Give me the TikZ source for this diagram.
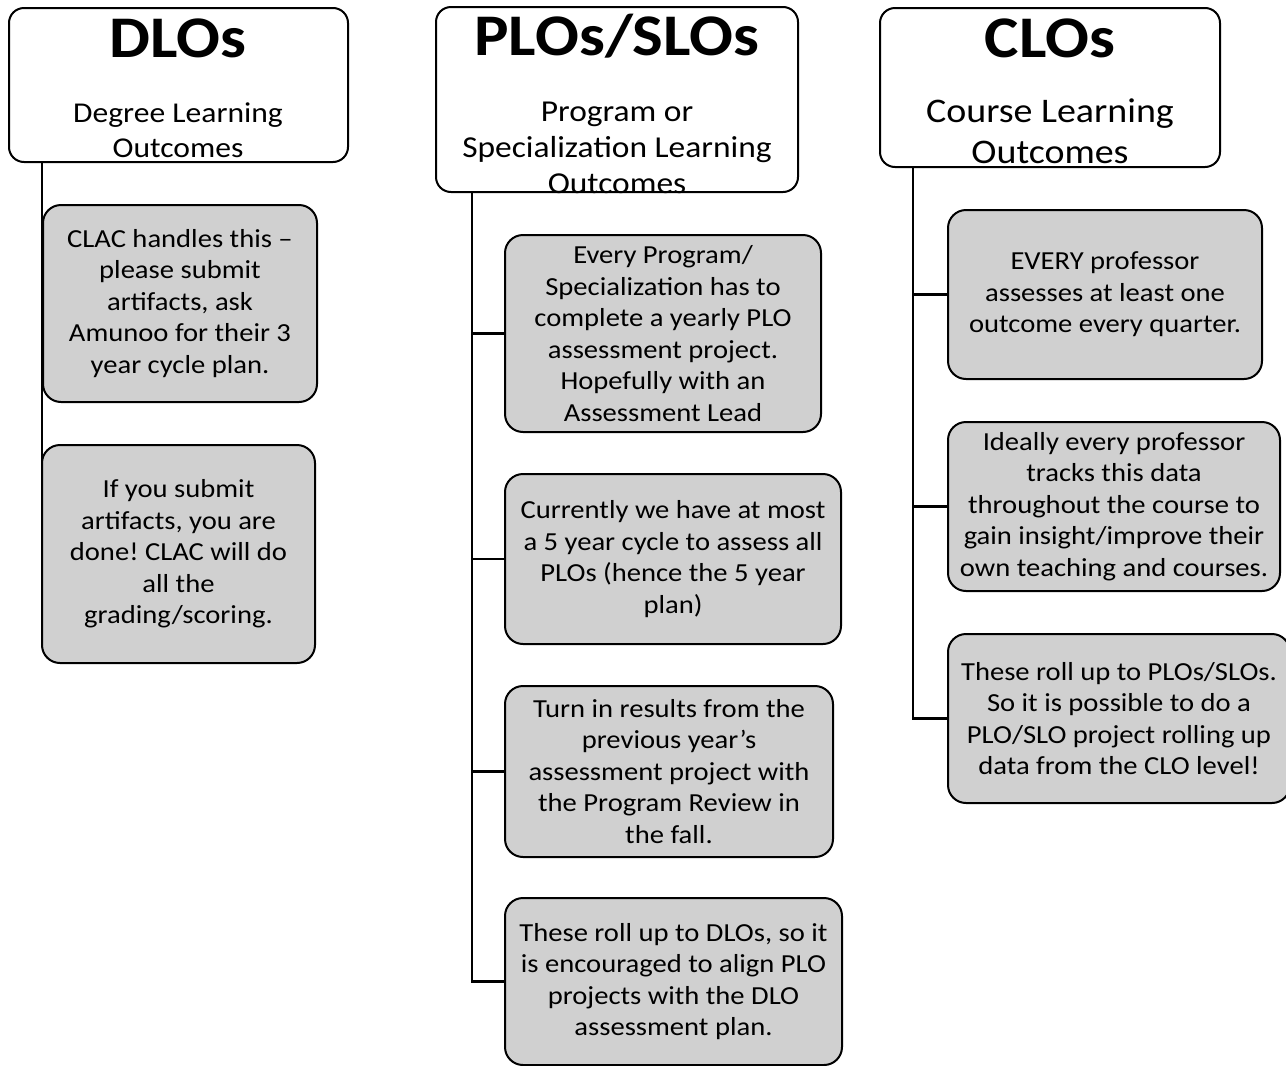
\documentclass[tikz,border=0pt]{standalone}
\usepackage{fontspec}
\setmainfont{Carlito}[FakeStretch=1.1]
\frenchspacing
\definecolor{boxgray}{RGB}{208,208,208}
\tikzset{
    x=1pt, y=-1pt,
    headbox/.style={draw, line width=2pt, fill=white, rounded corners=15pt,
        inner sep=0pt},
    notebox/.style={draw, line width=2pt, fill=boxgray, rounded corners=18pt,
        align=center, inner sep=0pt, font=\fontsize{26}{31.5}\selectfont},
    headtitle/.style={anchor=base, inner sep=0pt,
        font=\bfseries\fontsize{59}{60}\selectfont},
    headsub/.style={anchor=base, align=center, inner sep=0pt},
    link/.style={line width=2.5pt},
}

\begin{document}
\begin{tikzpicture}
    \useasboundingbox (0,0) rectangle (1286,1066);
    % headers (subtitles sit on their last baseline)
    \node[headbox, minimum width=339pt, minimum height=154pt] (dlo)
        at (178.5,85) {};
    \node[headtitle] (dlot) at (178,57) {DLOs};
    \node[headsub, font=\fontsize{28.7}{35}\selectfont] (dlos) at (178,157)
        {Degree Learning\\Outcomes};
    \node[headbox, minimum width=362pt, minimum height=185pt] (plo)
        at (617,99.5) {};
    \node[headtitle] (plot) at (617,55) {PLOs/SLOs};
    \node[headsub, font=\fontsize{30.4}{36}\selectfont] (plos) at (617,193)
        {Program or\\Specialization Learning\\Outcomes};
    \node[headbox, minimum width=340pt, minimum height=159pt] (clo)
        at (1050,87.5) {};
    \node[headtitle] (clot) at (1050,57) {CLOs};
    \node[headsub, font=\fontsize{34.5}{41}\selectfont] (clos) at (1050,163)
        {Course Learning\\Outcomes};
    % DLO notes
    \node[notebox, minimum width=274pt, minimum height=197pt] (d1)
        at (180,303.5) {CLAC handles this –\\please submit\\artifacts, ask\\
        Amunoo for their 3\\year cycle plan.};
    \node[notebox, minimum width=273pt, minimum height=218pt] (d2)
        at (178.5,554) {If you submit\\artifacts, you are\\done! CLAC will do\\
        all the\\grading/scoring.};
    % PLO notes
    \node[notebox, minimum width=316pt, minimum height=197pt] (p1)
        at (663,333.5) {Every Program/\\Specialization has to\\
        complete a yearly PLO\\assessment project.\\Hopefully with an\\
        Assessment Lead};
    \node[notebox, minimum width=336pt, minimum height=170pt] (p2)
        at (673,559) {Currently we have at most\\a 5 year cycle to assess all\\
        PLOs (hence the 5 year\\plan)};
    \node[notebox, minimum width=328pt, minimum height=171pt] (p3)
        at (669,771.5) {Turn in results from the\\previous year’s\\
        assessment project with\\the Program Review in\\the fall.};
    \node[notebox, minimum width=337pt, minimum height=167pt] (p4)
        at (673.5,981.5) {These roll up to DLOs, so it\\is encouraged to align PLO\\
        projects with the DLO\\assessment plan.};
    % CLO notes
    \node[notebox, minimum width=314pt, minimum height=169pt] (c1)
        at (1105,294.5) {EVERY professor\\assesses at least one\\
        outcome every quarter.};
    \node[notebox, minimum width=332pt, minimum height=169pt] (c2)
        at (1114,506.5) {Ideally every professor\\tracks this data\\
        throughout the course to\\gain insight/improve their\\
        own teaching and courses.};
    \node[notebox, minimum width=342pt, minimum height=169pt] (c3)
        at (1119,718.5) {These roll up to PLOs/SLOs.\\So it is possible to do a\\
        PLO/SLO project rolling up\\data from the CLO level!};
    % connectors
    \coordinate (ptrunk) at (472,0);
    \coordinate (ctrunk) at (913,0);
    \foreach \n in {d1,d2}
        \draw[link] (dlo.south -| d1.west) |- (\n.west);
    \foreach \n in {p1,p2,p3,p4}
        \draw[link] (plo.south -| ptrunk) |- (\n.west);
    \foreach \n in {c1,c2,c3}
        \draw[link] (clo.south -| ctrunk) |- (\n.west);
\end{tikzpicture}
\end{document}
